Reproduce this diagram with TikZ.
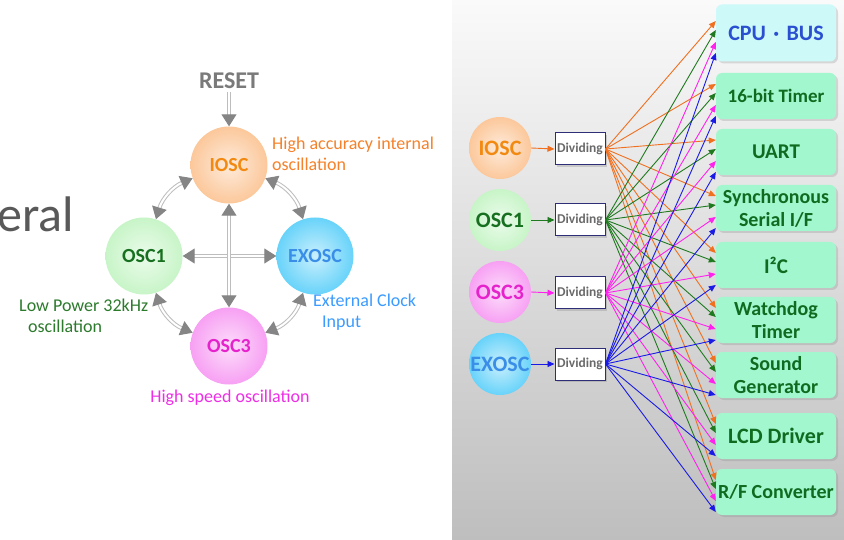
\documentclass[tikz,border=0pt]{standalone}
\usepackage{fontspec}
\setmainfont{Carlito}
\usetikzlibrary{arrows.meta,shadows,positioning}

\definecolor{ioscOr}{HTML}{FAB070}
\definecolor{oscGr}{HTML}{B0F0B0}
\definecolor{oscMg}{HTML}{F478EE}
\definecolor{exoscBl}{HTML}{28C0F7}
\definecolor{txOr}{HTML}{F28A12}
\definecolor{txGr}{HTML}{17701F}
\definecolor{txMg}{HTML}{E622CC}
\definecolor{txBl}{HTML}{3A8EE8}
\definecolor{lbOr}{HTML}{F5822A}
\definecolor{lbGr}{HTML}{2C7A2C}
\definecolor{lbMg}{HTML}{EE2EE6}
\definecolor{lbBl}{HTML}{3B9BFF}
\definecolor{linkGray}{HTML}{BDBDBD}
\definecolor{tipGray}{HTML}{858585}
\definecolor{resetGray}{HTML}{7A7A7A}
\definecolor{eralGray}{HTML}{595959}
\definecolor{panelTop}{HTML}{FAFAFA}
\definecolor{panelBot}{HTML}{BEBEBE}
\definecolor{divNavy}{HTML}{2E2E78}
\definecolor{divText}{HTML}{6A6A6A}
\definecolor{modFill}{HTML}{A3F7CF}
\definecolor{modText}{HTML}{0F6B1F}
\definecolor{cpuFill}{HTML}{CDF9F9}
\definecolor{cpuText}{HTML}{2A4FD0}
\definecolor{fanOr}{HTML}{F07020}
\definecolor{fanGr}{HTML}{1F7A1F}
\definecolor{fanMg}{HTML}{FF22EE}
\definecolor{fanBl}{HTML}{1A1AE6}

\colorlet{ballc}{ioscOr}
\pgfdeclareradialshading[ballc]{ballshade}{\pgfpoint{0bp}{0bp}}{%
  color(0bp)=(ballc!25!white); color(25bp)=(ballc!70!white); color(50bp)=(ballc)}

\begin{document}
\begin{tikzpicture}[x=1pt,y=-1pt,
  ball/.style={circle,inner sep=0pt,minimum size=77pt,/utils/exec={\colorlet{ballc}{#1}},
    shade,shading=ballshade,font=\fontsize{20}{24}\selectfont\bfseries},
  sball/.style={ball=#1,minimum size=62pt,font=\fontsize{22}{26}\selectfont\bfseries},
  link/.style={draw=linkGray,line width=1pt,double=white,double distance=2pt,
    {Triangle[width=15pt,length=12pt,color=tipGray]}-{Triangle[width=15pt,length=12pt,color=tipGray]}},
  note/.style={inner sep=0pt,align=left,font=\fontsize{18}{21}\selectfont},
  divbox/.style={draw=divNavy,fill=white,line width=1pt,minimum width=50pt,minimum height=32pt,
    inner sep=0pt,text=divText,font=\fontsize{13.5}{16}\selectfont\bfseries,
    drop shadow={shadow xshift=2pt,shadow yshift=-2pt,opacity=.3}},
  mod/.style={rounded corners=6pt,fill=modFill,minimum width=120pt,minimum height=46pt,
    inner sep=1pt,align=center,text=modText,font=\fontsize{20}{23}\selectfont\bfseries,
    drop shadow={shadow xshift=2pt,shadow yshift=-2pt,opacity=.25}},
  fan/.style={line width=0.9pt,-{Triangle[length=7pt,width=6pt]}}]

\fill[white] (0,0) rectangle (844,540);
\useasboundingbox (0,0) rectangle (844,540);

% clock sources and their switching paths
\node[anchor=base west,inner sep=0pt,text=eralGray,font=\fontsize{50}{54}\selectfont] (cut) at (-3,232) {eral};
\node[text=resetGray,font=\fontsize{24}{28}\selectfont\bfseries] (reset) at (229,81) {RESET};
\node[ball=ioscOr,text=txOr] (iosc) at (229,165) {IOSC};
\node[ball=oscGr,text=txGr] (osc1) at (144,256) {OSC1};
\node[ball=exoscBl,text=txBl] (exosc) at (315,256) {EXOSC};
\node[ball=oscMg,text=txMg] (osc3) at (229,346) {OSC3};

\draw[link,-{Triangle[width=15pt,length=12pt,color=tipGray]}] (reset.south) -- (iosc.north);
\draw[link] (osc1.east) -- (exosc.west);
\draw[link] (iosc.south) -- (osc3.north);
\draw[link] (iosc.200) to[bend right=25] (osc1.72);
\draw[link] (iosc.340) to[bend left=25] (exosc.108);
\draw[link] (osc3.160) to[bend left=25] (osc1.288);
\draw[link] (osc3.20) to[bend right=25] (exosc.252);

\node[note,text=lbOr,anchor=west] (ioscNote) at (272,154) {High accuracy internal\\oscillation};
\node[note,text=lbGr,anchor=west] (osc1Note) at (19,316) {Low Power 32kHz\\\hspace*{9pt}oscillation};
\node[note,text=lbBl,anchor=west] (exoscNote) at (313,312) {External Clock\\\hspace*{9pt}Input};
\node[note,text=lbMg] (osc3Note) at (230,398) {High speed oscillation};

% clock distribution
\shade[top color=panelTop,bottom color=panelBot] (452,0) rectangle (844,540);

\node[sball=ioscOr,text=txOr] (rIosc) at (500,148) {IOSC};
\node[sball=oscGr,text=txGr] (rOsc1) at (500,220) {OSC1};
\node[sball=oscMg,text=txMg] (rOsc3) at (500,292) {OSC3};
\node[sball=exoscBl,text=txBl] (rExosc) at (500,364) {EXOSC};

\node[divbox] (d1) at (580,149) {Dividing};
\node[divbox] (d2) at (580,220) {Dividing};
\node[divbox] (d3) at (580,293) {Dividing};
\node[divbox] (d4) at (580,364) {Dividing};

\draw[fan,fanOr] (rIosc.east) -- (d1.west);
\draw[fan,fanGr] (rOsc1.east) -- (d2.west);
\draw[fan,fanMg] (rOsc3.east) -- (d3.west);
\draw[fan,fanBl] (rExosc.east) -- (d4.west);

\node[mod,fill=cpuFill,text=cpuText,minimum height=57pt,font=\fontsize{22}{25}\selectfont\bfseries] (m1) at (776,33) {CPU\,\,·\,\,BUS};
\node[mod,font=\fontsize{19}{22}\selectfont\bfseries] (m2) at (776,96) {16-bit Timer};
\node[mod,font=\fontsize{21}{24}\selectfont\bfseries] (m3) at (776,152) {UART};
\node[mod] (m4) at (776,208) {Synchronous\\Serial I/F};
\node[mod,font=\fontsize{21}{24}\selectfont\bfseries] (m5) at (776,265) {I²C};
\node[mod] (m6) at (776,320) {Watchdog\\Timer};
\node[mod] (m7) at (776,375) {Sound\\Generator};
\node[mod,font=\fontsize{22}{25}\selectfont\bfseries] (m8) at (776,436) {LCD Driver};
\node[mod] (m9) at (776,492) {R/F Converter};

\foreach \d/\c/\s in {d1/fanOr/12,d2/fanGr/3,d3/fanMg/-9,d4/fanBl/-20}
  \foreach \m in {m1,m2,m3,m4,m5,m6,m7,m8,m9}
    \draw[fan,\c] (\d.east) -- ([yshift=\s pt]\m.west);
\end{tikzpicture}
\end{document}
